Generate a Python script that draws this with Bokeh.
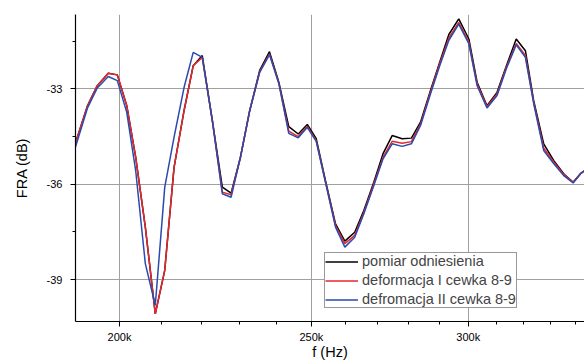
from bokeh.plotting import figure
from bokeh.models import FixedTicker, Legend, LegendItem, Range1d
from bokeh.embed import file_html
from bokeh.resources import INLINE

freq_hz = [190000, 192700, 194900, 197400, 199500, 201700, 203800, 206100, 208500, 210800,
           213100, 215600, 217900, 220200, 222800, 225400, 227700, 230200, 232700, 235400,
           238100, 240700, 243500, 246200, 248800, 251400, 254100, 257100, 259900, 262900,
           265700, 268800, 271700, 274600, 277800, 280800, 283800, 287100, 290200, 293300,
           296700, 300200, 303100, 306600, 310200, 313600, 317200, 320600, 323700, 327500,
           331300, 335200, 338900, 341800, 345600]

pomiar = [-34.71, -33.53, -32.90, -32.51, -32.56, -33.53, -35.15, -37.35, -40.08, -38.71,
          -35.47, -33.68, -32.27, -31.95, -34.00, -36.09, -36.28, -35.15, -33.68, -32.42,
          -31.83, -32.79, -34.19, -34.42, -34.12, -34.57, -35.88, -37.25, -37.79, -37.51,
          -36.83, -35.94, -35.04, -34.47, -34.57, -34.55, -34.05, -33.05, -32.16, -31.29,
          -30.80, -31.43, -32.79, -33.53, -33.11, -32.27, -31.43, -31.80, -33.37, -34.73,
          -35.25, -35.67, -35.94, -35.67, -35.45]

deform_1 = [-34.71, -33.53, -32.90, -32.51, -32.56, -33.53, -35.15, -37.35, -40.08, -38.71,
            -35.47, -33.68, -32.27, -32.01, -34.00, -36.25, -36.33, -35.15, -33.68, -32.46,
            -31.90, -32.82, -34.33, -34.50, -34.18, -34.63, -35.92, -37.30, -37.87, -37.61,
            -36.89, -35.99, -35.15, -34.65, -34.71, -34.66, -34.11, -33.10, -32.21, -31.40,
            -30.91, -31.53, -32.85, -33.56, -33.16, -32.31, -31.57, -31.95, -33.42, -34.86,
            -35.30, -35.69, -35.94, -35.67, -35.45]

deform_2 = [-34.84, -33.60, -32.97, -32.61, -32.74, -33.74, -35.57, -38.50, -39.81, -36.10,
            -34.52, -32.95, -31.85, -32.01, -34.00, -36.30, -36.41, -35.15, -33.68, -32.48,
            -31.92, -32.83, -34.40, -34.54, -34.21, -34.65, -35.93, -37.35, -37.98, -37.67,
            -36.93, -36.04, -35.20, -34.73, -34.81, -34.73, -34.15, -33.16, -32.27, -31.47,
            -30.96, -31.58, -32.90, -33.60, -33.21, -32.36, -31.61, -32.01, -33.46, -34.94,
            -35.35, -35.73, -35.96, -35.67, -35.45]

x_major = [200000, 250000, 300000]
x_minor = [190000, 210000, 220000, 230000, 240000, 260000, 270000, 280000, 290000,
           310000, 320000, 330000, 340000]
x_labels = {200000: "200k", 250000: "250k", 300000: "300k"}
y_major = [-39, -36, -33]
y_minor = [-37.5, -34.5, -31.5]
y_labels = {-39: "-39", -36: "-36", -33: "-33"}

series_names = ["pomiar odniesienia", "deformacja I cewka 8-9", "defromacja II cewka 8-9"]
series_colors = ["#000000", "#e8262c", "#2a4aae"]

FONT = "Liberation Sans"

p = figure(width=584, height=363, x_axis_type="log", output_backend="svg",
           toolbar_location=None, x_range=Range1d(190030, 343400),
           y_range=Range1d(-40.32, -30.66),
           min_border_left=75, min_border_right=0, min_border_top=14,
           min_border_bottom=42)
p.outline_line_color = None
p.background_fill_color = "white"
p.border_fill_color = "white"

p.xaxis.ticker = FixedTicker(ticks=x_major, minor_ticks=x_minor)
p.yaxis.ticker = FixedTicker(ticks=y_major, minor_ticks=y_minor)
p.xgrid.ticker = FixedTicker(ticks=x_major)
p.ygrid.ticker = FixedTicker(ticks=y_major)
p.xaxis.major_label_overrides = x_labels
p.yaxis.major_label_overrides = y_labels

for ax in (p.xaxis[0], p.yaxis[0]):
    ax.axis_line_color = "black"
    ax.axis_line_width = 1.2
    ax.major_tick_line_color = "black"
    ax.minor_tick_line_color = "black"
    ax.major_tick_out = 5
    ax.major_tick_in = 0
    ax.minor_tick_out = 3
    ax.minor_tick_in = 0
    ax.major_label_text_font = FONT
    ax.major_label_text_font_size = "11px"
    ax.major_label_text_color = "black"
    ax.axis_label_text_font = FONT
    ax.axis_label_text_font_size = "14.5px"
    ax.axis_label_text_font_style = "normal"
    ax.axis_label_text_color = "black"

p.xaxis.axis_label = "f (Hz)"
p.yaxis.axis_label = "FRA (dB)"
p.xaxis.major_label_standoff = 4
p.xaxis.axis_label_standoff = -2
p.yaxis.major_label_standoff = 8
p.yaxis.axis_label_standoff = 14

for g in (p.xgrid[0], p.ygrid[0]):
    g.grid_line_color = "#a0a0a0"
    g.grid_line_width = 1

renderers = []
for vals, col in zip([pomiar, deform_1, deform_2], series_colors):
    r = p.line(freq_hz, vals, line_color=col, line_width=1.5)
    renderers.append(r)

legend = Legend(items=[LegendItem(label=n, renderers=[r]) for n, r in zip(series_names, renderers)],
                location=(249, 13))
legend.label_text_font = FONT
legend.label_text_font_size = "14.5px"
legend.label_height = 15
legend.glyph_height = 15
legend.glyph_width = 33
legend.label_standoff = 4
legend.spacing = 3
legend.padding = 0
legend.margin = 0
legend.border_line_color = "#333333"
legend.border_line_width = 1
legend.background_fill_color = "white"
legend.background_fill_alpha = 1.0
p.add_layout(legend, "center")

open("out.html", "w").write(file_html(p, INLINE))
